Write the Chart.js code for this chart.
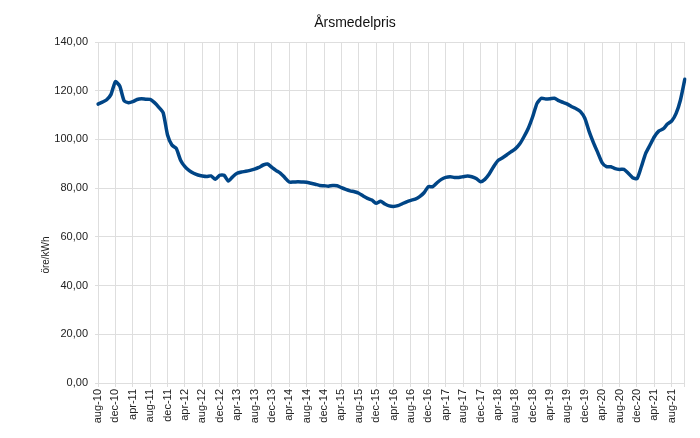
<!DOCTYPE html>
<html>
<head>
<meta charset="utf-8">
<title>Årsmedelpris</title>
<script src="https://cdn.jsdelivr.net/npm/chart.js"></script>
<style>
  html, body { margin: 0; padding: 0; background: #fff; }
  #wrap { width: 700px; height: 438px; }
</style>
</head>
<body>
<div id="wrap"><canvas id="chart" width="700" height="438"></canvas></div>
<script>
// Årsmedelpris, monthly aug-10 .. nov-21 (öre/kWh)
const chartTitle = 'Årsmedelpris';
const yTitle = 'öre/kWh';
const startYear = 10, startMonth = 7; // aug-10

const prices = [
  114.5, 115.3, 116.3, 118.5, 123.7, 121.9, 115.9, 115.1, 115.5, 116.4, 116.7, 116.5, // aug-10 .. jul-11
  116.4, 115.1, 113.2, 110.9, 101.8, 97.7, 96.3, 91.5, 88.8, 87.2, 86.1, 85.4,         // aug-11 .. jul-12
  85.0, 84.8, 85.0, 83.6, 85.3, 85.3, 82.9, 84.7, 86.1, 86.6, 86.9, 87.3,              // aug-12 .. jul-13
  87.8, 88.5, 89.5, 89.9, 88.5, 87.2, 86.1, 84.3, 82.5, 82.5, 82.6, 82.5,              // aug-13 .. jul-14
  82.4, 82.0, 81.6, 81.1, 81.0, 80.8, 81.1, 81.0, 80.2, 79.5, 78.9, 78.5,              // aug-14 .. jul-15
  77.9, 76.8, 75.8, 75.1, 73.8, 74.6, 73.5, 72.7, 72.5, 72.8, 73.6, 74.4,              // aug-15 .. jul-16
  75.0, 75.5, 76.5, 78.1, 80.6, 80.6, 82.2, 83.6, 84.4, 84.7, 84.4, 84.4,              // aug-16 .. jul-17
  84.7, 85.0, 84.7, 84.0, 82.6, 83.6, 85.8, 88.8, 91.3, 92.4, 93.6, 94.9,              // aug-17 .. jul-18
  96.1, 98.1, 101.1, 104.6, 109.3, 114.8, 116.9, 116.6, 116.7, 116.9, 115.9, 115.2,    // aug-18 .. jul-19
  114.5, 113.4, 112.6, 111.4, 108.7, 103.2, 98.6, 94.5, 90.4, 88.8, 88.8, 88.0,        // aug-19 .. jul-20
  87.7, 87.7, 86.1, 84.3, 83.9, 88.8, 94.3, 97.7, 101.1, 103.4, 104.3, 106.3,          // aug-20 .. jul-21
  107.6, 110.7, 116.2, 124.7                                                            // aug-21 .. nov-21
];

// tick label shown on every 4th month, as in the original (aug, dec, apr)
const tickNames = ['jan','feb','mar','apr','maj','jun','jul','aug','sep','oct','nov','dec'];
const labels = prices.map((_, i) => {
  const m = (startMonth + i) % 12;
  const y = startYear + Math.floor((startMonth + i) / 12);
  return tickNames[m] + '-' + String(y).padStart(2, '0');
});

const yMin = 0, yMax = 140, yStep = 20;
const gridColor = '#dedede';
const textColor = '#222';

// title and y-axis title drawn by hand so they sit where the original has them
const textPlugin = {
  id: 'texts',
  afterDraw(chart) {
    const c = chart.ctx;
    const y = chart.scales.y;
    c.save();
    c.fillStyle = '#111';
    c.font = '14px "Liberation Sans", Arial, sans-serif';
    c.textAlign = 'center';
    c.textBaseline = 'alphabetic';
    c.fillText(chartTitle, 355, 27);

    c.fillStyle = textColor;
    c.font = '10px "Liberation Sans", Arial, sans-serif';
    c.textBaseline = 'middle';
    c.translate(46, (y.top + chart.height) / 2 + 15);
    c.rotate(-Math.PI / 2);
    c.fillText(yTitle, 0, 0);
    c.restore();
  }
};

Chart.defaults.font.family = '"Liberation Sans", Arial, sans-serif';
Chart.defaults.color = textColor;

new Chart(document.getElementById('chart'), {
  type: 'line',
  data: {
    labels: labels,
    datasets: [{
      label: chartTitle,
      data: prices,
      borderColor: '#004586',
      backgroundColor: '#004586',
      borderWidth: 3.5,
      borderJoinStyle: 'round',
      borderCapStyle: 'round',
      pointRadius: 0,
      tension: 0.2
    }]
  },
  options: {
    responsive: false,
    animation: false,
    layout: { padding: { left: 0, right: 15, top: 42, bottom: 0 } },
    plugins: {
      legend: { display: false },
      tooltip: { enabled: false },
      title: { display: false }
    },
    scales: {
      x: {
        offset: false,
        grid: { color: gridColor, tickLength: 4 },
        border: { color: gridColor },
        ticks: {
          autoSkip: false,
          minRotation: 90,
          maxRotation: 90,
          padding: 2,
          font: { size: 11 },
          callback: (v, i) => {
            if (i % 4 === 0) return labels[i];
            if (i === labels.length - 1) return '';
            return null;
          }
        },
        afterFit: s => { s.height = 55; }
      },
      y: {
        min: yMin,
        max: yMax,
        grid: { color: gridColor, tickLength: 3 },
        border: { color: gridColor },
        ticks: {
          stepSize: yStep,
          padding: 7,
          font: { size: 11 },
          callback: v => v.toFixed(2).replace('.', ',')
        },
        afterFit: s => { s.width = 98; }
      }
    }
  },
  plugins: [textPlugin]
});
</script>
</body>
</html>
